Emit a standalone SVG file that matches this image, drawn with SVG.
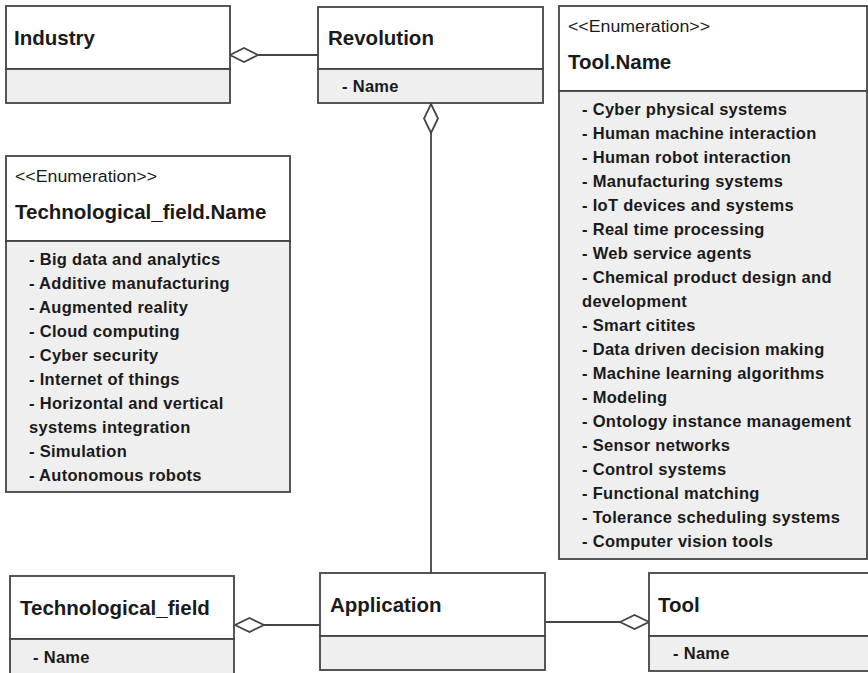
<svg xmlns="http://www.w3.org/2000/svg" width="868" height="673" viewBox="0 0 868 673">
  <style>
    .hd { fill: #ffffff; stroke: #444444; stroke-width: 1.8; }
    .bd { fill: #efefef; stroke: #444444; stroke-width: 1.8; }
    .title { font-family: "Liberation Sans", Arial, sans-serif; font-weight: bold; font-size: 20.5px; fill: #1a1a1a; }
    .stereo { font-family: "Liberation Sans", Arial, sans-serif; font-size: 16px; fill: #1a1a1a; }
    .item { font-family: "Liberation Sans", Arial, sans-serif; font-weight: bold; font-size: 16.5px; letter-spacing: 0.3px; fill: #1a1a1a; }
    .conn { fill: none; stroke: #444444; stroke-width: 1.8; }
    .dia { fill: #ffffff; stroke: #444444; stroke-width: 1.8; }
  </style>

  <!-- associations -->
  <g id="connectors">
    <line class="conn" x1="258" y1="55" x2="318" y2="55"/>
    <polygon class="dia" points="230,55 244,48 258,55 244,62"/>

    <line class="conn" x1="431" y1="133" x2="431" y2="573"/>
    <polygon class="dia" points="431,104 438,118.5 431,133 424,118.5"/>

    <line class="conn" x1="264" y1="625" x2="320" y2="625"/>
    <polygon class="dia" points="235,625 249.5,618 264,625 249.5,632"/>

    <line class="conn" x1="545" y1="622" x2="620" y2="622"/>
    <polygon class="dia" points="620,622 634.5,615 649,622 634.5,629"/>
  </g>

  <g id="industry">
    <rect class="hd" x="6" y="6" width="224" height="63"/>
    <rect class="bd" x="6" y="69" width="224" height="34"/>
    <text class="title" x="14" y="45">Industry</text>
  </g>

  <g id="revolution">
    <rect class="hd" x="318" y="7" width="225" height="62"/>
    <rect class="bd" x="318" y="69" width="225" height="34"/>
    <text class="title" x="328" y="45">Revolution</text>
    <text class="item" x="342" y="92">- Name</text>
  </g>

  <g id="tool-name">
    <rect class="hd" x="559" y="6" width="308" height="85"/>
    <rect class="bd" x="559" y="91" width="308" height="468"/>
    <text class="stereo" x="568" y="32" textLength="142" lengthAdjust="spacingAndGlyphs">&lt;&lt;Enumeration&gt;&gt;</text>
    <text class="title" x="568" y="69">Tool.Name</text>
    <text class="item" x="582" y="115">- Cyber physical systems</text>
    <text class="item" x="582" y="139">- Human machine interaction</text>
    <text class="item" x="582" y="163">- Human robot interaction</text>
    <text class="item" x="582" y="187">- Manufacturing systems</text>
    <text class="item" x="582" y="211">- IoT devices and systems</text>
    <text class="item" x="582" y="235">- Real time processing</text>
    <text class="item" x="582" y="259">- Web service agents</text>
    <text class="item" x="582" y="283">- Chemical product design and</text>
    <text class="item" x="582" y="307">development</text>
    <text class="item" x="582" y="331">- Smart citites</text>
    <text class="item" x="582" y="355">- Data driven decision making</text>
    <text class="item" x="582" y="379">- Machine learning algorithms</text>
    <text class="item" x="582" y="403">- Modeling</text>
    <text class="item" x="582" y="427">- Ontology instance management</text>
    <text class="item" x="582" y="451">- Sensor networks</text>
    <text class="item" x="582" y="475">- Control systems</text>
    <text class="item" x="582" y="499">- Functional matching</text>
    <text class="item" x="582" y="523">- Tolerance scheduling systems</text>
    <text class="item" x="582" y="547">- Computer vision tools</text>
  </g>

  <g id="technological-field-name">
    <rect class="hd" x="6" y="156" width="284" height="85"/>
    <rect class="bd" x="6" y="241" width="284" height="251"/>
    <text class="stereo" x="15" y="182" textLength="142" lengthAdjust="spacingAndGlyphs">&lt;&lt;Enumeration&gt;&gt;</text>
    <text class="title" x="15" y="219">Technological_field.Name</text>
    <text class="item" x="29" y="265">- Big data and analytics</text>
    <text class="item" x="29" y="289">- Additive manufacturing</text>
    <text class="item" x="29" y="313">- Augmented reality</text>
    <text class="item" x="29" y="337">- Cloud computing</text>
    <text class="item" x="29" y="361">- Cyber security</text>
    <text class="item" x="29" y="385">- Internet of things</text>
    <text class="item" x="29" y="409">- Horizontal and vertical</text>
    <text class="item" x="29" y="433">systems integration</text>
    <text class="item" x="29" y="457">- Simulation</text>
    <text class="item" x="29" y="481">- Autonomous robots</text>
  </g>

  <g id="technological-field">
    <rect class="hd" x="10" y="576" width="224" height="63"/>
    <rect class="bd" x="10" y="639" width="224" height="40"/>
    <text class="title" x="20" y="615">Technological_field</text>
    <text class="item" x="33" y="663">- Name</text>
  </g>

  <g id="application">
    <rect class="hd" x="320" y="573" width="225" height="63"/>
    <rect class="bd" x="320" y="636" width="225" height="34"/>
    <text class="title" x="330" y="612">Application</text>
  </g>

  <g id="tool">
    <rect class="hd" x="649" y="573" width="225" height="63"/>
    <rect class="bd" x="649" y="636" width="225" height="35"/>
    <text class="title" x="658" y="612">Tool</text>
    <text class="item" x="673" y="659">- Name</text>
  </g>
</svg>
